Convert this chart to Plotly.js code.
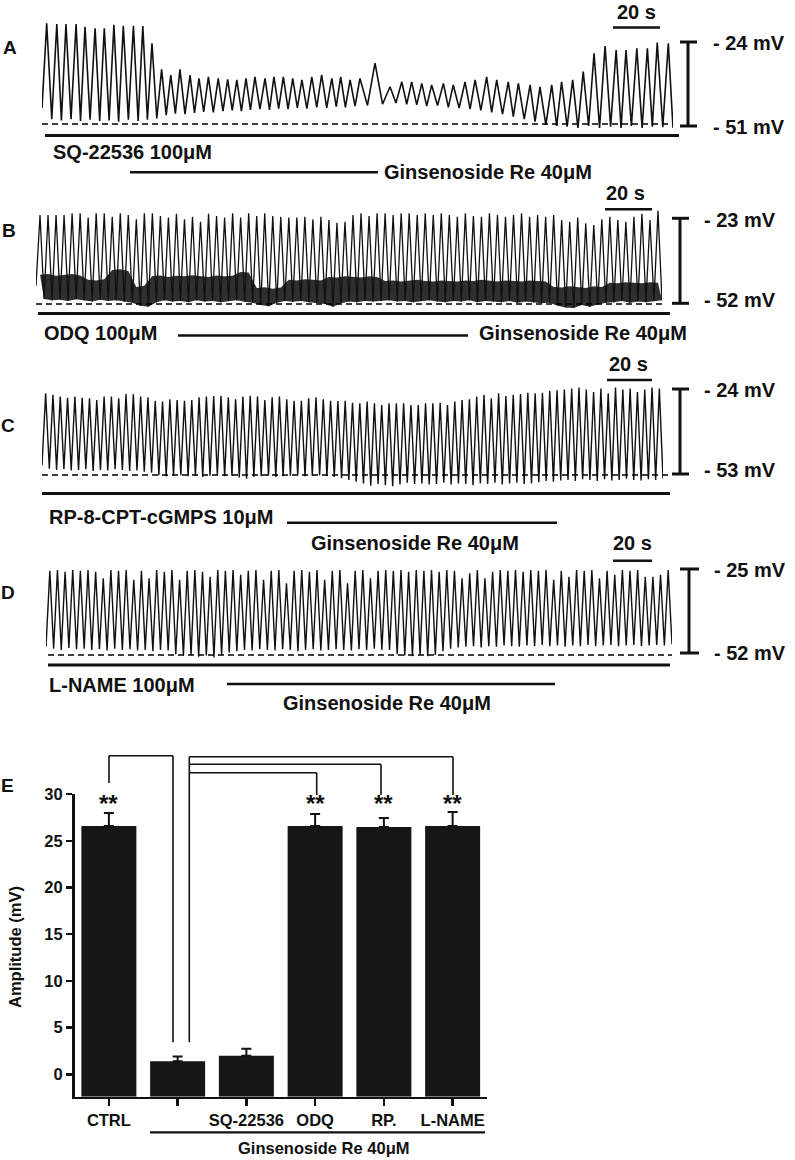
<!DOCTYPE html>
<html>
<head>
<meta charset="utf-8">
<script src="https://cdn.plot.ly/plotly-3.0.1.min.js"></script>
<style>html,body{margin:0;padding:0;background:#fff}#chart{width:795px;height:1160px}</style>
</head>
<body>
<div id="chart"></div>
<script>
// ================= DATA =================
// Panel A : SQ-22536 100µM, then Ginsenoside Re 40µM  (time in s, voltage in mV)
const timesA = [2.0,6.3,10.2,14.5,18.3,22.6,26.5,30.6,34.6,38.9,42.9,46.8,
  50.9,54.8,58.7,63.0,66.8,70.8,75.0,79.0,82.9,86.8,90.6,94.9,98.7,102.7,106.7,110.6,114.8,119.0,123.3,127.1,131.1,135.3,141.7,
  148.1,153.1,157.3,161.6,165.8,170.8,175.0,180.0,184.3,189.2,193.5,198.4,202.7,207.7,211.9,216.9,221.1,225.8,230.3,234.9,239.6,244.3,248.5,253.1,257.6,261.8,266.5];
const peaksA = [-18.0,-18.2,-18.2,-18.2,-19.1,-19.6,-19.6,-18.5,-18.8,-18.8,-18.9,-24.4,
  -32.8,-34.6,-32.8,-34.6,-35.7,-35.2,-35.7,-36.0,-36.2,-35.7,-35.2,-35.7,-35.2,-35.2,-35.7,-36.2,-35.2,-34.6,-35.7,-35.2,-36.2,-35.7,-30.8,
  -38.4,-36.8,-36.8,-37.3,-37.8,-37.3,-37.8,-36.8,-36.2,-35.2,-36.2,-36.8,-37.3,-37.8,-38.4,-37.8,-36.8,-36.2,-33.5,-27.6,-25.3,-26.6,-26.6,-26.0,-26.0,-24.2,-24.4];
const troughsA = [-48.8,-49.2,-48.8,-49.4,-49.0,-49.4,-49.2,-49.6,-49.0,-49.4,-49.0,-48.6,
  -47.5,-47.0,-47.2,-46.8,-46.5,-46.6,-46.2,-46.0,-46.2,-45.8,-45.6,-45.8,-45.4,-45.6,-45.2,-45.4,-45.0,-45.2,-44.8,-45.0,-44.6,-44.4,-44.0,
  -43.6,-44.0,-44.2,-44.6,-44.4,-45.0,-45.2,-45.6,-46.0,-46.6,-47.2,-48.0,-48.8,-49.6,-50.6,-51.0,-51.2,-51.6,-51.0,-51.6,-51.2,-51.6,-51.0,-51.6,-51.2,-51.4,-51.6];
const startA = -45.2;
const recordEndA = 268.5;

// Panel B : ODQ 100µM
const peaksB = [-21.9,-21.9,-21.9,-21.9,-21.3,-21.3,-22.7,-21.3,-21.3,-22.5,-21.3,-21.9,-23.3,-21.3,-21.3,
  -22.2,-22.7,-21.5,-23.3,-22.5,-24.2,-21.5,-22.2,-22.7,-21.3,-22.7,-21.3,-22.2,-21.3,-22.2,
  -22.5,-22.7,-22.7,-22.5,-23.3,-22.5,-23.6,-24.5,-24.2,-21.9,-21.3,-22.2,-21.3,
  -21.3,-21.9,-21.3,-21.3,-21.9,-21.3,-21.9,-21.3,-21.9,-22.5,-21.3,-22.2,-22.5,-21.3,-21.9,
  -22.5,-21.9,-21.3,-22.5,-21.9,-22.5,-21.9,-23.6,-24.2,-22.7,-24.7,-25.3,-23.3,-22.5,-23.6,
  -24.2,-22.5,-21.5,-23.6,-20.4];
const troughsB = [-50.5,-51.0,-50.8,-51.2,-50.6,-51.0,-51.4,-50.8,-51.2,-51.0,-51.5,-51.8,-52.8,-53.2,-51.6,
  -51.0,-51.4,-51.2,-51.6,-51.0,-51.4,-51.2,-51.6,-51.2,-51.0,-51.5,-51.8,-52.6,-53.0,-51.8,
  -51.2,-51.5,-51.2,-51.6,-51.8,-52.2,-53.2,-52.0,-51.4,-51.6,-51.2,-51.4,-51.2,
  -51.0,-51.4,-51.2,-51.6,-51.2,-51.0,-51.4,-51.6,-51.2,-51.4,-51.0,-51.6,-51.2,-51.4,-51.6,
  -51.2,-51.8,-51.4,-51.6,-52.0,-51.8,-52.8,-53.4,-53.6,-52.6,-53.2,-52.4,-51.8,-51.6,-51.2,
  -51.8,-51.4,-51.6,-51.2,-51.0];
const noiseTopB = [-42.3,-42.0,-42.6,-42.3,-42.0,-42.5,-44.0,-44.2,-43.8,-40.6,-40.4,-41.0,-46.4,-46.0,-42.7,
  -42.5,-43.0,-42.6,-42.8,-42.4,-42.7,-43.0,-42.5,-42.8,-42.6,-41.3,-41.5,-46.8,-46.5,-47.0,
  -46.6,-44.0,-44.2,-43.8,-44.0,-44.2,-43.0,-43.2,-42.8,-43.0,-43.2,-42.8,-43.0,
  -44.4,-44.2,-44.6,-44.4,-44.0,-44.4,-44.6,-44.2,-44.4,-44.6,-44.2,-44.4,-44.0,-44.4,-44.6,
  -44.2,-44.4,-44.6,-44.2,-44.4,-44.6,-46.4,-46.6,-46.2,-46.4,-46.8,-46.2,-46.4,-45.0,-45.2,
  -44.8,-45.0,-45.2,-44.8,-45.0];
const startB = -46.0;

// Panel C : RP-8-CPT-cGMPS 10µM
const peaksC = [-25.5,-26.0,-26.6,-27.0,-26.6,-27.0,-27.2,-27.8,-26.6,-26.6,-27.2,-25.7,-25.8,-26.6,-26.8,
  -28.0,-28.3,-27.5,-27.8,-28.0,-27.8,-26.8,-26.6,-26.4,-26.3,-26.8,-27.5,-26.6,-26.3,-26.6,
  -27.8,-26.8,-26.6,-27.5,-28.0,-28.0,-27.2,-26.8,-27.5,-28.0,-28.1,-28.0,-28.7,-28.9,-28.3,-28.9,
  -29.5,-28.9,-28.9,-28.9,-29.5,-29.5,-28.9,-28.9,-28.7,-29.5,-28.3,-27.8,-27.5,-26.6,-26.0,
  -27.2,-25.5,-26.4,-26.0,-25.7,-25.3,-25.5,-25.3,-24.6,-24.4,-24.2,-23.8,-23.5,-24.2,-25.0,
  -23.8,-25.5,-23.5,-24.2,-23.8,-25.0,-24.2,-23.5,-23.8];
const troughsC = [-51.2,-51.6,-51.4,-51.8,-51.6,-51.4,-52.0,-51.6,-51.8,-51.4,-51.6,-52.0,-51.8,-52.2,-52.6,
  -53.4,-53.8,-53.6,-53.4,-53.8,-53.6,-54.0,-53.6,-53.4,-53.8,-53.6,-54.2,-54.6,-54.0,-53.8,
  -53.6,-54.0,-53.8,-53.6,-53.4,-53.8,-53.6,-53.4,-53.8,-54.0,-54.4,-55.0,-55.6,-56.2,-57.0,-56.4,
  -56.8,-57.2,-56.6,-56.0,-56.4,-56.2,-56.6,-56.4,-56.0,-56.6,-56.2,-56.4,-56.8,-56.2,-56.4,
  -56.0,-56.6,-56.2,-56.0,-56.4,-56.2,-55.8,-55.4,-55.6,-55.2,-55.0,-55.4,-54.8,-55.0,-55.4,
  -54.8,-55.2,-55.0,-54.6,-55.0,-55.2,-54.8,-55.0,-54.6];
const startC = -50.0;

// Panel D : L-NAME 100µM
const peaksD = [-25.6,-25.3,-25.9,-25.3,-25.6,-25.3,-25.9,-28.0,-25.3,-25.6,-25.3,-28.5,-25.6,-28.0,-25.3,
  -25.9,-25.3,-28.5,-25.6,-25.3,-25.9,-27.5,-25.3,-25.6,-25.3,-26.9,-25.6,-25.3,-28.5,-25.6,
  -25.3,-29.6,-25.6,-25.3,-25.9,-25.3,-28.5,-25.6,-25.3,-29.6,-25.6,-25.3,-28.0,-25.6,
  -25.3,-25.6,-25.3,-25.9,-25.3,-25.6,-25.3,-25.9,-25.3,-25.6,-28.0,-26.4,-25.3,-28.0,-25.9,
  -25.3,-25.6,-25.3,-25.9,-25.3,-25.6,-25.3,-28.5,-25.6,-27.5,-25.3,-25.6,-25.3,-28.0,-25.6,
  -26.9,-25.3,-25.6,-25.3,-27.5,-27.5,-26.9,-25.3];
const troughsD = [-50.6,-51.0,-50.4,-50.8,-50.6,-51.0,-50.8,-51.2,-50.6,-51.0,-50.8,-51.2,-51.0,-51.4,-51.0,
  -51.2,-52.4,-52.8,-52.6,-53.2,-52.8,-53.4,-52.6,-51.8,-51.4,-51.0,-51.2,-50.8,-51.0,-51.2,
  -50.8,-51.0,-51.4,-51.0,-50.8,-51.2,-51.0,-50.8,-51.0,-51.2,-50.8,-51.0,-50.6,-51.0,
  -51.0,-52.4,-52.8,-53.0,-52.6,-53.0,-52.6,-51.4,-50.6,-50.2,-50.0,-49.8,-50.2,-49.8,-50.0,
  -49.6,-49.8,-50.0,-49.6,-49.8,-49.4,-49.8,-49.6,-50.0,-49.6,-49.8,-49.4,-49.8,-49.6,-49.4,
  -49.8,-49.6,-49.4,-49.8,-49.6,-49.4,-49.6,-49.2];
const startD = -50.0;

// Panel E : bar chart
const barCategories = ['CTRL', 'Re', 'SQ-22536', 'ODQ', 'RP.', 'L-NAME'];
const barTickLabels = ['CTRL', '', 'SQ-22536', 'ODQ', 'RP.', 'L-NAME'];
const barValues = [26.6, 1.4, 2.0, 26.6, 26.5, 26.6];
const barErrors = [1.4, 0.5, 0.75, 1.3, 0.95, 1.5];
const sigLabels = ['**', '', '', '**', '**', '**'];

// ================= DRAWING =================
const W = 795, H = 1160;
const FONT = 'Liberation Sans, Arial, Helvetica, sans-serif';
const INK = '#111111';
const PX = v => v / W;
const PY = v => 1 - v / H;

const panels = [
  {peaks: peaksA, troughs: troughsA, start: startA, times: timesA, tEnd: recordEndA,
   cal: [-24, 42, -51, 126], ydom: [8, 142], xdom: [42, 673], lw: 1.6},
  {peaks: peaksB, troughs: troughsB, start: startB, band: noiseTopB,
   cal: [-23, 218.3, -52, 303.3], ydom: [198, 314], xdom: [36, 662], lw: 1.3},
  {peaks: peaksC, troughs: troughsC, start: startC,
   cal: [-24, 389, -53, 474], ydom: [378, 492], xdom: [42, 663], lw: 1.4},
  {peaks: peaksD, troughs: troughsD, start: startD,
   cal: [-25, 569, -52, 653], ydom: [556, 668], xdom: [46, 672], lw: 1.4}
];

const traces = [];
const layout = {
  width: W, height: H, autosize: false,
  margin: {l: 0, r: 0, t: 0, b: 0, pad: 0},
  paper_bgcolor: '#fff', plot_bgcolor: 'rgba(0,0,0,0)',
  showlegend: false,
  font: {family: FONT, color: INK},
  shapes: [], annotations: []
};

panels.forEach((p, k) => {
  const sfx = k === 0 ? '' : String(k + 1);
  const xa = 'x' + sfx, ya = 'y' + sfx;
  const n = p.peaks.length;
  const mv = pyv => p.cal[0] + (pyv - p.cal[1]) * (p.cal[2] - p.cal[0]) / (p.cal[3] - p.cal[1]);
  let x = [], y = [p.start], xr;
  if (p.times) {
    x.push(0);
    for (let i = 0; i < n; i++) {
      x.push(p.times[i]); y.push(p.peaks[i]);
      x.push(i < n - 1 ? (p.times[i] + p.times[i + 1]) / 2 : p.tEnd); y.push(p.troughs[i]);
    }
    xr = [0, p.tEnd];
  } else {
    x.push(0);
    for (let i = 0; i < n; i++) {
      x.push(2 * i + 1); y.push(p.peaks[i]);
      x.push(2 * i + 2); y.push(p.troughs[i]);
    }
    xr = [0, 2 * n];
  }
  if (p.band) {
    traces.push({type: 'scatter', mode: 'lines', xaxis: xa, yaxis: ya,
      x: p.troughs.map((_, i) => 2 * i + 2), y: p.troughs,
      line: {width: 0, color: INK}, hoverinfo: 'skip'});
    traces.push({type: 'scatter', mode: 'lines', xaxis: xa, yaxis: ya,
      x: p.band.map((_, i) => 2 * i + 1), y: p.band, fill: 'tonexty',
      fillcolor: 'rgba(18,18,18,0.88)', line: {width: 0, color: INK}, hoverinfo: 'skip'});
  }
  traces.push({type: 'scatter', mode: 'lines', xaxis: xa, yaxis: ya, x: x, y: y,
    line: {color: INK, width: p.lw}, hoverinfo: 'skip'});
  layout['xaxis' + sfx] = {domain: [PX(p.xdom[0]), PX(p.xdom[1])], range: xr, visible: false,
    fixedrange: true, anchor: ya};
  layout['yaxis' + sfx] = {domain: [PY(p.ydom[1]), PY(p.ydom[0])], range: [mv(p.ydom[1]), mv(p.ydom[0])],
    visible: false, fixedrange: true, anchor: xa};
});

// bar chart
const barBase = -2.4;
traces.push({
  type: 'bar', xaxis: 'x5', yaxis: 'y5', x: barCategories,
  y: barValues.map(v => v - barBase), base: barBase, width: 0.8,
  marker: {color: '#161616', line: {width: 0}},
  error_y: {type: 'data', symmetric: false, array: barErrors, arrayminus: barErrors.map(() => 0),
    color: INK, thickness: 2, width: 5},
  hoverinfo: 'skip'
});
layout.xaxis5 = {domain: [PX(74.5), PX(487)], anchor: 'y5', type: 'category',
  categoryorder: 'array', categoryarray: barCategories, range: [-0.5, 5.5],
  tickmode: 'array', tickvals: barCategories, ticktext: barTickLabels,
  showline: true, linewidth: 2.6, linecolor: INK, ticks: 'outside', ticklen: 7, tickwidth: 2.4,
  tickcolor: INK, showgrid: false, zeroline: false, fixedrange: true,
  tickfont: {family: FONT, size: 16.5, color: INK, weight: 'bold'}};
layout.yaxis5 = {domain: [PY(1096.7), PY(794.3)], anchor: 'x5', range: [barBase, 30],
  tick0: 0, dtick: 5, showline: true, linewidth: 2.6, linecolor: INK, ticks: 'outside',
  ticklen: 6, tickwidth: 2.4, tickcolor: INK, showgrid: false, zeroline: false, fixedrange: true,
  tickfont: {family: FONT, size: 16.5, color: INK, weight: 'bold'}};

// ---------- helpers for decorations ----------
function seg(x0, y0, x1, y1, w, dash) {
  layout.shapes.push({type: 'line', xref: 'paper', yref: 'paper',
    x0: PX(x0), y0: PY(y0), x1: PX(x1), y1: PY(y1),
    line: {color: dash ? '#000' : INK, width: w, dash: dash || 'solid'}});
}
function txt(t, x, y, size, xanchor, extra) {
  layout.annotations.push(Object.assign({xref: 'paper', yref: 'paper', x: PX(x), y: PY(y), text: t,
    showarrow: false, xanchor: xanchor || 'center', yanchor: 'middle', borderpad: 0,
    font: {family: FONT, size: size, color: INK, weight: 'bold'}}, extra || {}));
}
function scaleBar(x, y0, y1, c0, c1) {
  seg(x, y0, x, y1, 3);
  seg(c0, y0, c1, y0, 3);
  seg(c0, y1, c1, y1, 3);
}

const deco = [
  {letter: 'A', lx: 10, ly: 47, dash: [42, 673, 124], solid: [45, 679, 135.5],
   drug: 'SQ-22536 100μM', dx: 52, dy: 152, re: [130, 378, 172.3], rx: 383, ry: 172,
   s20: [613, 660, 27.5], s20t: [636, 12], vb: [688, 42, 126, 680, 697],
   mv: ['- 24 mV', '- 51 mV'], mvx: 712, mvy: [43, 126.5]},
  {letter: 'B', lx: 9, ly: 231, dash: [36, 663, 304], solid: [38, 670, 313.5],
   drug: 'ODQ 100μM', dx: 43, dy: 333, re: [178, 468, 335.5], rx: 478, ry: 333,
   s20: [605, 652, 209.3], s20t: [625, 193], vb: [680, 218.3, 303.3, 672, 689],
   mv: ['- 23 mV', '- 52 mV'], mvx: 703, mvy: [220, 300]},
  {letter: 'C', lx: 8, ly: 425, dash: [42, 668, 475], solid: [42, 670, 493.5],
   drug: 'RP-8-CPT-cGMPS 10μM', dx: 48, dy: 517, re: [287, 557, 522.7], rx: 310, ry: 543,
   s20: [607, 652, 380], s20t: [628, 364], vb: [680, 389, 474, 672, 689],
   mv: ['- 24 mV', '- 53 mV'], mvx: 703, mvy: [390, 470]},
  {letter: 'D', lx: 8, ly: 592, dash: [48, 672, 655], solid: [48, 670, 665],
   drug: 'L-NAME 100μM', dx: 48, dy: 685, re: [227, 555, 684], rx: 282, ry: 703,
   s20: [613, 652, 560.7], s20t: [632, 543], vb: [689, 569, 653, 680, 699],
   mv: ['- 25 mV', '- 52 mV'], mvx: 713, mvy: [570, 653]}
];
deco.forEach(d => {
  txt(d.letter, d.lx, d.ly, 19, 'center');
  seg(d.dash[0], d.dash[2], d.dash[1], d.dash[2], 1.5, '6px,4px');
  seg(d.solid[0], d.solid[2], d.solid[1], d.solid[2], 3);
  txt(d.drug, d.dx, d.dy, 20, 'left');
  seg(d.re[0], d.re[2], d.re[1], d.re[2], 2.5);
  txt('Ginsenoside Re 40μM', d.rx, d.ry, 20, 'left');
  seg(d.s20[0], d.s20[2], d.s20[1], d.s20[2], 2.5);
  txt('20 s', d.s20t[0], d.s20t[1], 20, 'center');
  scaleBar(d.vb[0], d.vb[1], d.vb[2], d.vb[3], d.vb[4]);
  txt(d.mv[0], d.mvx, d.mvy[0], 20, 'left');
  txt(d.mv[1], d.mvx, d.mvy[1], 20, 'left');
});

// panel E decorations
txt('E', 7, 785, 19, 'center');
txt('Amplitude (mV)', 15, 947, 16.5, 'center', {textangle: -90});
sigLabels.forEach((s, i) => {
  if (!s) return;
  layout.annotations.push({xref: 'x5', yref: 'y5', x: barCategories[i], y: 29.05, text: s,
    showarrow: false, xanchor: 'center', yanchor: 'middle',
    font: {family: FONT, size: 24, color: INK, weight: 'bold'}});
});
// significance brackets
const BW = 1.6;
seg(109, 783, 109, 755.7, BW); seg(109, 755.7, 173, 755.7, BW); seg(173, 755.7, 173, 1042.3, BW);
seg(189.3, 1042.3, 189.3, 756.7, BW); seg(189.3, 756.7, 453, 756.7, BW); seg(453, 756.7, 453, 795, BW);
seg(189.3, 764.3, 381, 764.3, BW); seg(381, 764.3, 381, 795, BW);
seg(189.3, 772.7, 316.7, 772.7, BW); seg(316.7, 772.7, 316.7, 795, BW);
// group line under categories
seg(150, 1132.3, 485, 1132.3, 2.2);
txt('Ginsenoside Re 40μM', 323, 1148, 16.5, 'center');

Plotly.newPlot('chart', traces, layout, {staticPlot: true, displayModeBar: false});
</script>
</body>
</html>
